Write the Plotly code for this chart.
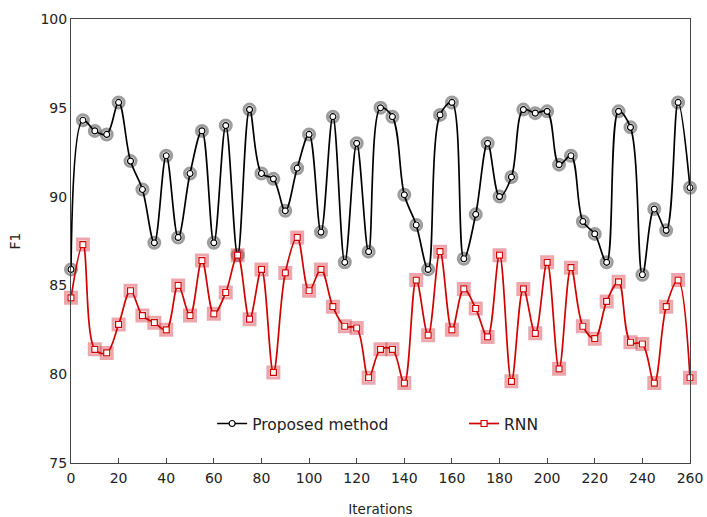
import plotly.graph_objects as go

iterations = list(range(0, 265, 5))

proposed = [85.9, 94.3, 93.7, 93.5, 95.3, 92.0, 90.4, 87.4, 92.3, 87.7,
            91.3, 93.7, 87.4, 94.0, 86.7, 94.9, 91.3, 91.0, 89.2, 91.6,
            93.5, 88.0, 94.5, 86.3, 93.0, 86.9, 95.0, 94.5, 90.1, 88.4,
            85.9, 94.6, 95.3, 86.5, 89.0, 93.0, 90.0, 91.1, 94.9, 94.7,
            94.8, 91.8, 92.3, 88.6, 87.9, 86.3, 94.8, 93.9, 85.6, 89.3,
            88.1, 95.3, 90.5]

rnn = [84.3, 87.3, 81.4, 81.2, 82.8, 84.7, 83.3, 82.9, 82.5, 85.0,
       83.3, 86.4, 83.4, 84.6, 86.7, 83.1, 85.9, 80.1, 85.7, 87.7,
       84.7, 85.9, 83.8, 82.7, 82.6, 79.8, 81.4, 81.4, 79.5, 85.3,
       82.2, 86.9, 82.5, 84.8, 83.7, 82.1, 86.7, 79.6, 84.8, 82.3,
       86.3, 80.3, 86.0, 82.7, 82.0, 84.1, 85.2, 81.8, 81.7, 79.5,
       83.8, 85.3, 79.8]

x_ticks = list(range(0, 261, 20))
y_ticks = [75, 80, 85, 90, 95, 100]

FONT = "DejaVu Sans"
fig = go.Figure()

# halos
fig.add_trace(go.Scatter(x=iterations, y=proposed, mode="markers", showlegend=False,
                         hoverinfo="skip", cliponaxis=False,
                         marker=dict(symbol="circle", size=11, color="rgba(0,0,0,0)",
                                     line=dict(color="rgba(60,60,60,0.5)", width=3))))
fig.add_trace(go.Scatter(x=iterations, y=rnn, mode="markers", showlegend=False,
                         hoverinfo="skip", cliponaxis=False,
                         marker=dict(symbol="square", size=11, color="rgba(0,0,0,0)",
                                     line=dict(color="rgba(215,60,70,0.45)", width=3))))

fig.add_trace(go.Scatter(x=iterations, y=proposed, mode="lines+markers", name="Proposed method",
                         line=dict(color="black", width=1.7, shape="spline", smoothing=1.0),
                         cliponaxis=False, legend="legend",
                         marker=dict(symbol="circle", size=6, color="white",
                                     line=dict(color="black", width=1.2))))
fig.add_trace(go.Scatter(x=iterations, y=rnn, mode="lines+markers", name="RNN",
                         line=dict(color="#d00000", width=1.7, shape="spline", smoothing=1.0),
                         cliponaxis=False, legend="legend2",
                         marker=dict(symbol="square", size=6, color="white",
                                     line=dict(color="#d00000", width=1.2))))

fig.update_layout(
    width=707, height=517,
    margin=dict(l=71, r=17, t=19, b=54),
    paper_bgcolor="white", plot_bgcolor="white",
    font=dict(family=FONT, size=14, color="#222"),
    xaxis=dict(range=[0, 260], tickvals=x_ticks, ticks="inside", ticklen=5,
               tickcolor="#444", showline=True, linecolor="#444", linewidth=1,
               mirror=True, showgrid=False, zeroline=False, automargin=False,
               ticklabelstandoff=2, ticklabeloverflow="allow",
               title=dict(text="Iterations", font=dict(size=13.5), standoff=20)),
    yaxis=dict(range=[75, 100], tickvals=y_ticks, ticks="", showline=True,
               linecolor="#444", linewidth=1, mirror=True, showgrid=False,
               zeroline=False, automargin=False,
               title=dict(text="F1", font=dict(size=14), standoff=16)),
    legend=dict(x=0.228, y=0.088, xanchor="left", yanchor="middle",
                bgcolor="rgba(0,0,0,0)", font=dict(size=15.5)),
    legend2=dict(x=0.635, y=0.088, xanchor="left", yanchor="middle",
                 bgcolor="rgba(0,0,0,0)", font=dict(size=15.5)),
)

fig.write_html("out.html", config={"displayModeBar": False},
               post_script="document.body.style.margin='0px';document.body.style.overflow='hidden';")
